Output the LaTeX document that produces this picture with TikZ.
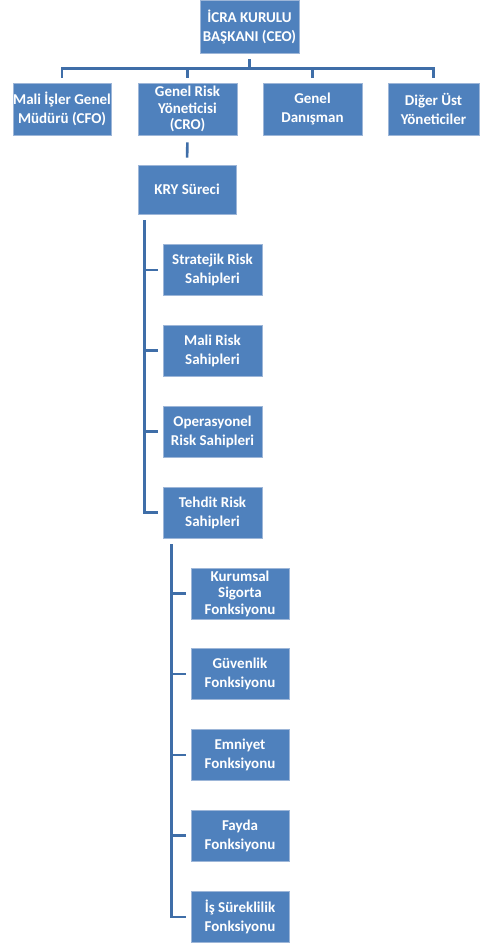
\documentclass[tikz,border=0pt]{standalone}
\usepackage{fontspec}
\setmainfont{Carlito}
\definecolor{boxblue}{HTML}{4F81BD}
\definecolor{edgeblue}{HTML}{9DB6D8}
\definecolor{linecol}{HTML}{3F6EA8}
\begin{document}
\begin{tikzpicture}[x=1pt,y=-1pt,
  box/.style={rectangle, fill=boxblue, draw=edgeblue, line width=0.6pt,
    text=white, font=\bfseries\fontsize{15}{19}\selectfont, align=center,
    inner sep=0pt, minimum height=51pt, minimum width=99pt},
  tight/.style={font=\bfseries\fontsize{15}{16.5}\selectfont},
  conn/.style={draw=linecol, line width=2.6pt},
  gap/.style={shorten <=6pt, shorten >=5pt}]
\useasboundingbox (0,0) rectangle (480,945);
\fill[white] (0,0) rectangle (480,945);

\node[box, minimum height=53pt] (ceo) at (249.5,26.5) {İCRA KURULU\\BAŞKANI (CEO)};
\node[box, minimum width=98pt, minimum height=52pt] (cfo) at (62,109) {Mali İşler Genel\\Müdürü (CFO)};
\node[box, minimum height=52pt, tight] (cro) at (187.5,109) {Genel Risk\\Yöneticisi\\(CRO)};
\node[box, minimum height=52pt] (gd) at (312.5,109) {Genel\\Danışman};
\node[box, minimum width=91pt, minimum height=52pt] (dig) at (433.5,109) {Diğer Üst\\Yöneticiler};

\node[box, minimum width=98pt, minimum height=49pt] (kry) at (187,189.5) {KRY Süreci};

\node[box] (str) at (212.5,270) {Stratejik Risk\\Sahipleri};
\node[box] (mal) at (212.5,350.5) {Mali Risk\\Sahipleri};
\node[box] (ope) at (212.5,431.5) {Operasyonel\\Risk Sahipleri};
\node[box] (teh) at (212.5,512.5) {Tehdit Risk\\Sahipleri};

\node[box, minimum width=98pt, tight] (kur) at (240,593.5) {Kurumsal\\Sigorta\\Fonksiyonu};
\node[box, minimum width=98pt] (guv) at (240,674) {Güvenlik\\Fonksiyonu};
\node[box, minimum width=98pt] (emn) at (240,755) {Emniyet\\Fonksiyonu};
\node[box, minimum width=98pt] (fay) at (240,835.5) {Fayda\\Fonksiyonu};
\node[box, minimum width=98pt] (iss) at (240,917) {İş Süreklilik\\Fonksiyonu};

% top tree
\foreach \t in {cfo,cro,gd,dig}
  \draw[conn, gap] (ceo.south) -- ++(0,15) -| (\t.north);
\draw[conn, shorten <=7pt, shorten >=7pt] (cro.south) -- (kry.north);

% risk owners bracket
\foreach \t in {str,mal,ope,teh}
  \draw[conn, gap] ([xshift=7pt]kry.south west) |- (\t.west);

% functions bracket
\foreach \t in {kur,guv,emn,fay,iss}
  \draw[conn, gap] ([xshift=9pt]teh.south west) |- (\t.west);
\end{tikzpicture}
\end{document}
